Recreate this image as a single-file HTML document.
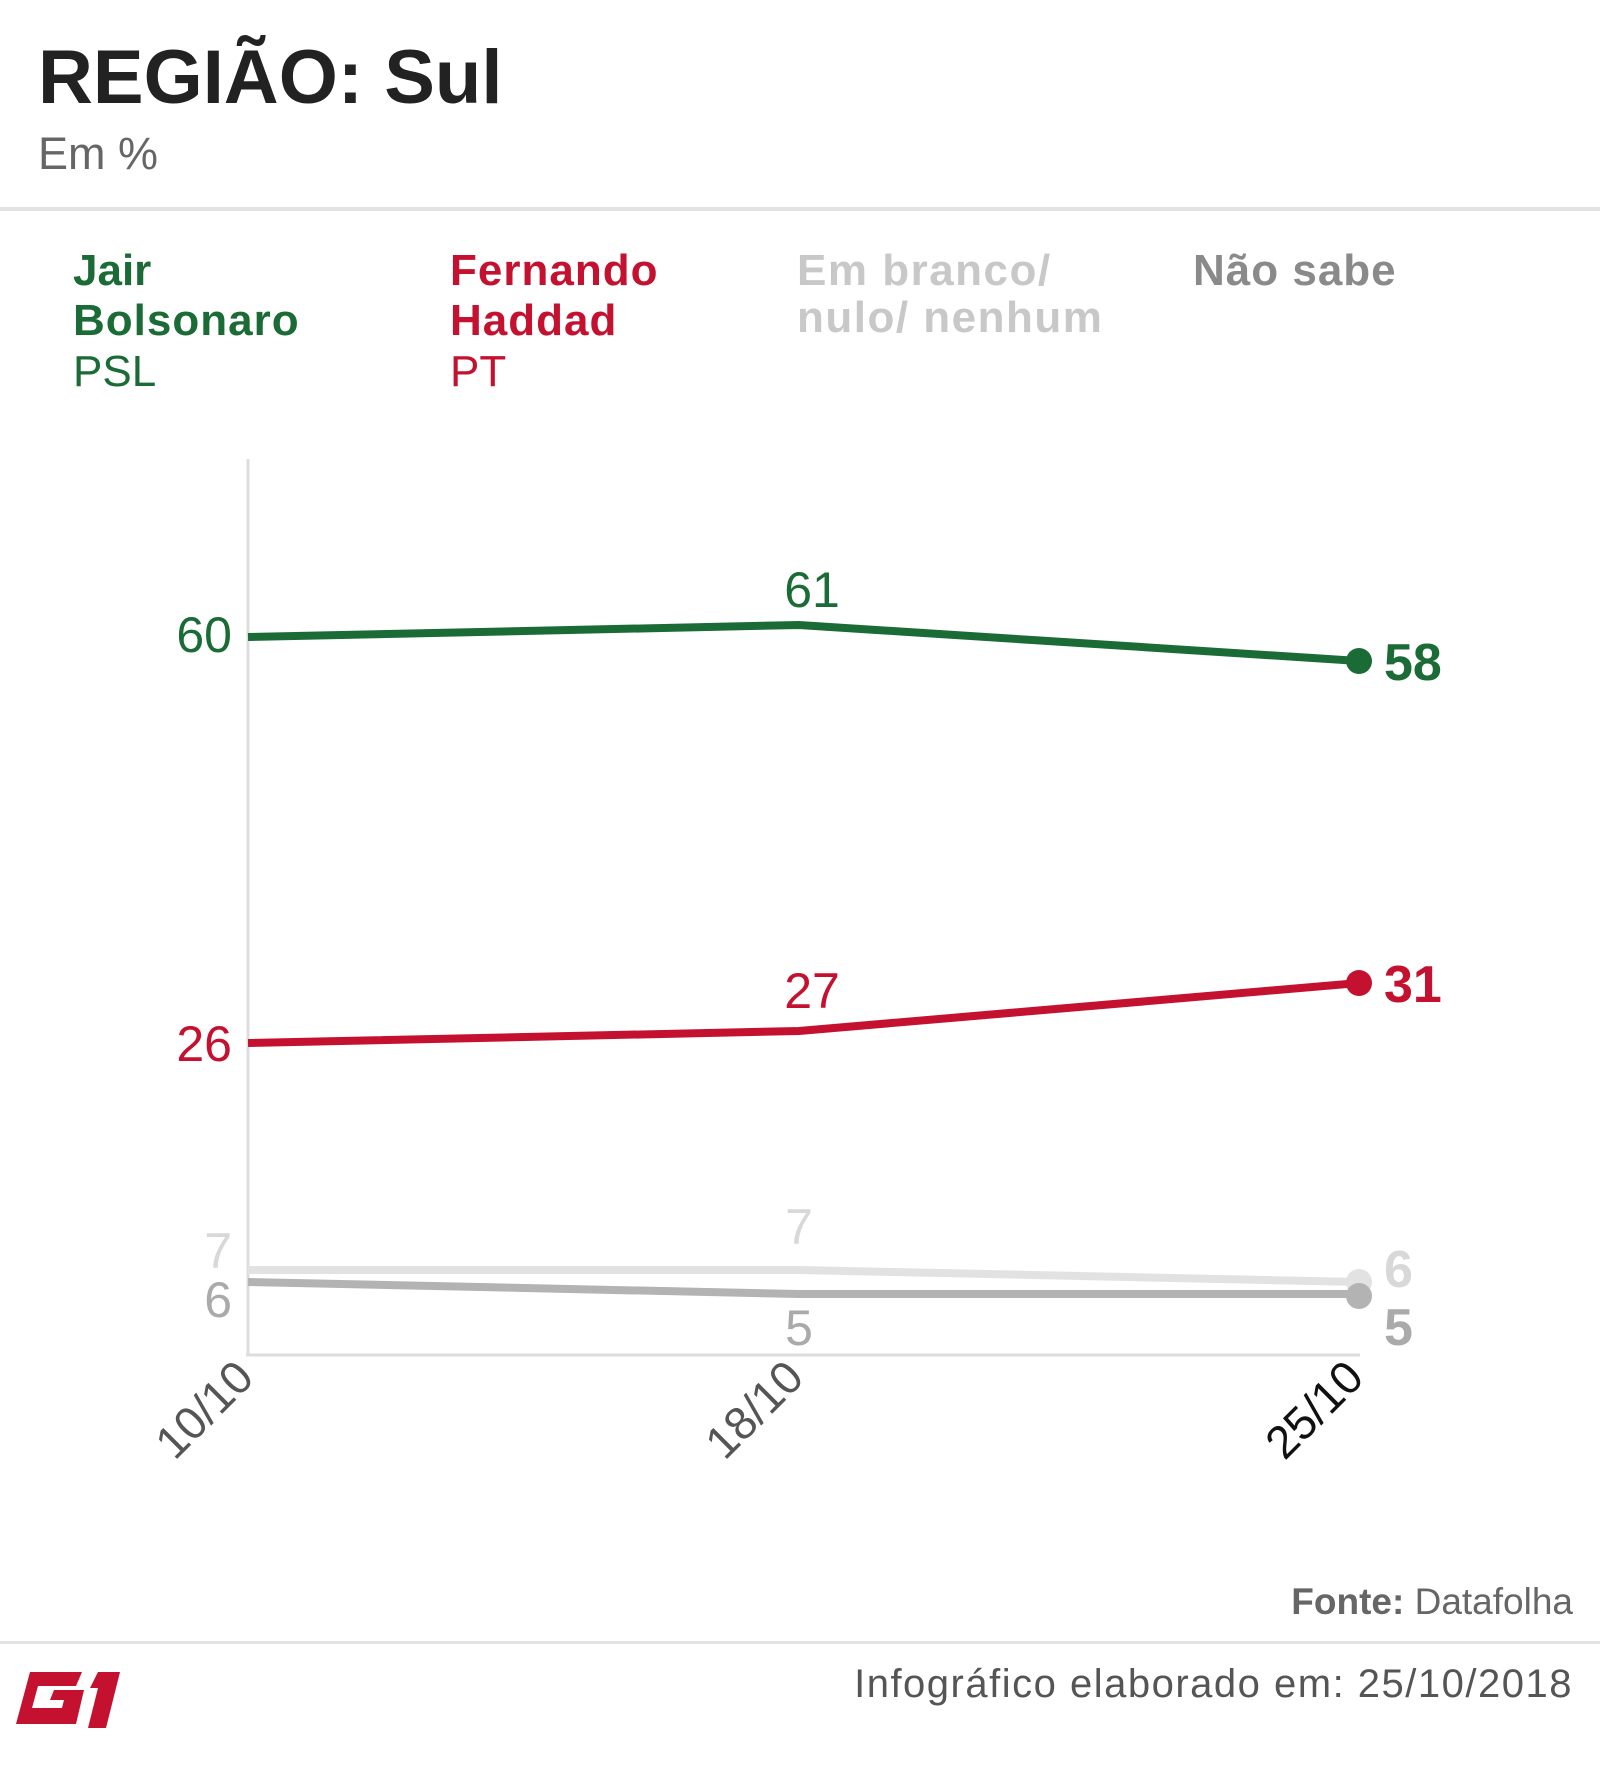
<!DOCTYPE html>
<html><head><meta charset="utf-8"><style>
html,body{margin:0;padding:0;background:#fff;}
body{width:1600px;height:1765px;position:relative;overflow:hidden;font-family:"Liberation Sans","DejaVu Sans",sans-serif;}
</style></head><body>
<svg width="1600" height="1765" xmlns="http://www.w3.org/2000/svg" style="position:absolute;left:0;top:0" font-family="Liberation Sans, DejaVu Sans, sans-serif">
<text x="38" y="103" font-size="76" font-weight="bold" fill="#222">REGIÃO: Sul</text>
<text x="38" y="169" font-size="45" fill="#666">Em %</text>
<rect x="0" y="207" width="1600" height="4" fill="#e3e3e3"/>
<g font-size="44" font-weight="bold">
<text x="73" y="285" fill="#1b6b36">Jair</text>
<text x="73" y="335" fill="#1b6b36" letter-spacing="1">Bolsonaro</text>
<text x="73" y="386" fill="#1b6b36" font-weight="normal">PSL</text>
<text x="450" y="285" fill="#c4112f" letter-spacing="1">Fernando</text>
<text x="450" y="335" fill="#c4112f" letter-spacing="1">Haddad</text>
<text x="450" y="386" fill="#c4112f" font-weight="normal">PT</text>
<text x="797" y="285" fill="#c8c8c8" letter-spacing="1.5">Em branco/</text>
<text x="797" y="332" fill="#c8c8c8" letter-spacing="1.5">nulo/ nenhum</text>
<text x="1193" y="285" fill="#8a8a8a" letter-spacing="1">Não sabe</text>
</g>
<line x1="248" y1="459" x2="248" y2="1355" stroke="#ddd" stroke-width="3"/>
<line x1="246" y1="1355" x2="1360" y2="1355" stroke="#ddd" stroke-width="3"/>
<polyline points="248,1270 799,1270 1359,1282" fill="none" stroke="#e2e2e2" stroke-width="8"/>
<polyline points="248,1282 799,1294 1359,1294" fill="none" stroke="#b3b3b3" stroke-width="8"/>
<polyline points="248,1043 799,1031 1359,983" fill="none" stroke="#c4112f" stroke-width="8"/>
<polyline points="248,637 799,625 1359,661" fill="none" stroke="#1b6b36" stroke-width="8"/>
<circle cx="1359" cy="1282" r="13" fill="#e2e2e2"/>
<circle cx="1359" cy="1296" r="13" fill="#b3b3b3"/>
<circle cx="1359" cy="983" r="13" fill="#c4112f"/>
<circle cx="1359" cy="661" r="13" fill="#1b6b36"/>
<g font-size="50">
<text x="232" y="652" text-anchor="end" fill="#1b6b36">60</text>
<text x="232" y="1061" text-anchor="end" fill="#c4112f">26</text>
<text x="232" y="1268" text-anchor="end" fill="#d8d8d8">7</text>
<text x="232" y="1317" text-anchor="end" fill="#aaa">6</text>
<text x="812" y="607" text-anchor="middle" fill="#1b6b36">61</text>
<text x="812" y="1008" text-anchor="middle" fill="#c4112f">27</text>
<text x="799" y="1244" text-anchor="middle" fill="#d8d8d8">7</text>
<text x="799" y="1345" text-anchor="middle" fill="#aaa">5</text>
</g>
<g font-size="52" font-weight="bold">
<text x="1384" y="680" fill="#1b6b36">58</text>
<text x="1384" y="1002" fill="#c4112f">31</text>
<text x="1384" y="1287" fill="#d8d8d8">6</text>
<text x="1384" y="1345" fill="#aaa">5</text>
</g>
<g font-size="46">
<text transform="translate(256,1380) rotate(-45)" text-anchor="end" fill="#555">10/10</text>
<text transform="translate(806,1380) rotate(-45)" text-anchor="end" fill="#555">18/10</text>
<text transform="translate(1366,1380) rotate(-45)" text-anchor="end" fill="#111">25/10</text>
</g>
<text x="1573" y="1614" text-anchor="end" font-size="37" fill="#666"><tspan font-weight="bold">Fonte:</tspan> Datafolha</text>
<rect x="0" y="1641" width="1600" height="3" fill="#e3e3e3"/>
<text x="1573" y="1697" text-anchor="end" font-size="40" letter-spacing="1.5" fill="#555">Infográfico elaborado em: 25/10/2018</text>
<g fill="#c4112f">
<path d="M30,1672 h52 l-6,14 h-38 l-6,22 h30 l2,-8 h-14 l4,-10 h30 l-8,34 h-60 z"/>
<path d="M98,1672 h22 l-14,56 h-18 l10,-40 h-8 z"/>
</g>
</svg>
</body></html>
